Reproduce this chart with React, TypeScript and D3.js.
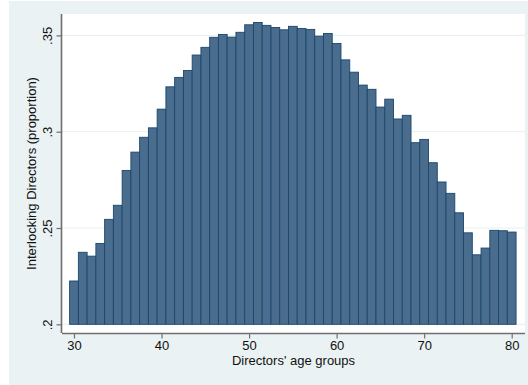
import React, { useEffect, useRef } from 'react';
import * as d3 from 'd3';

// Directors' age groups (x) and share of interlocking directors (y)
const ages = d3.range(30, 81);
const proportions = [
  0.2225, 0.2374, 0.2354, 0.2420, 0.2545, 0.2618, 0.2799, 0.2894, 0.2971, 0.3020,
  0.3117, 0.3233, 0.3282, 0.3318, 0.3398, 0.3438, 0.3490, 0.3505, 0.3491, 0.3516,
  0.3555, 0.3567, 0.3552, 0.3541, 0.3529, 0.3547, 0.3536, 0.3531, 0.3496, 0.3510,
  0.3458, 0.3373, 0.3309, 0.3242, 0.3220, 0.3128, 0.3169, 0.3066, 0.3085, 0.2943,
  0.2960, 0.2839, 0.2739, 0.2680, 0.2579, 0.2475, 0.2361, 0.2396, 0.2488, 0.2486,
  0.2479,
];
const xTicks = [30, 40, 50, 60, 70, 80];
const yTicks = [0.2, 0.25, 0.3, 0.35];
const yTickLabels = ['.2', '.25', '.3', '.35'];

const App = () => {
  const svgRef = useRef<SVGSVGElement>(null);

  useEffect(() => {
    const width = 528;
    const height = 385;
    const plot = { left: 62, right: 525, top: 14, bottom: 333 };
    const font = '"Liberation Sans", Arial, sans-serif';

    const svg = d3.select(svgRef.current)
      .attr('width', width)
      .attr('height', height);

    svg.selectAll('*').remove();

    // graph region and plot region
    svg.append('rect')
      .attr('x', 9).attr('y', 1)
      .attr('width', width - 9).attr('height', height - 1)
      .attr('fill', '#eaf2f3');
    svg.append('rect')
      .attr('x', plot.left).attr('y', plot.top)
      .attr('width', plot.right - plot.left).attr('height', plot.bottom - plot.top)
      .attr('fill', '#ffffff');

    const xScale = d3.scaleLinear()
      .domain([28.63, 81.52])
      .range([plot.left, plot.right]);

    const yScale = d3.scaleLinear()
      .domain([0.1955, 0.3611])
      .range([plot.bottom, plot.top]);

    // gridlines
    svg.append('g')
      .selectAll('line')
      .data(yTicks)
      .enter()
      .append('line')
      .attr('x1', plot.left)
      .attr('x2', plot.right)
      .attr('y1', d => yScale(d))
      .attr('y2', d => yScale(d))
      .attr('stroke', '#e6eff0')
      .attr('stroke-width', 1);

    // bars
    const bw = xScale(1) - xScale(0);
    svg.append('g')
      .selectAll('rect')
      .data(ages)
      .enter()
      .append('rect')
      .attr('x', d => xScale(d) - bw / 2)
      .attr('y', (d, i) => yScale(proportions[i]))
      .attr('width', bw)
      .attr('height', (d, i) => yScale(0.2) - yScale(proportions[i]))
      .attr('fill', '#4a6d8e')
      .attr('stroke', '#1a476f')
      .attr('stroke-width', 0.9);

    // x axis
    const xAxis = svg.append('g')
      .attr('transform', `translate(0, ${plot.bottom})`)
      .call(d3.axisBottom(xScale).tickValues(xTicks).tickSize(5.5).tickSizeOuter(0).tickPadding(2.5));
    xAxis.select('.domain').attr('stroke', '#6f6f6f').attr('stroke-width', 1.6)
      .attr('d', `M${plot.left},0.5H${plot.right}`);
    xAxis.selectAll('.tick line').attr('stroke', '#6f6f6f').attr('stroke-width', 1.2);
    xAxis.selectAll('.tick text')
      .attr('font-family', font).attr('font-size', 13).attr('fill', '#111');

    // y axis
    const yAxis = svg.append('g')
      .attr('transform', `translate(${plot.left}, 0)`)
      .call(d3.axisLeft(yScale).tickValues(yTicks).tickSize(5.5).tickSizeOuter(0)
        .tickFormat((d, i) => yTickLabels[i]));
    yAxis.select('.domain').attr('stroke', '#6f6f6f').attr('stroke-width', 1.6)
      .attr('d', `M-0.5,${plot.top}V${plot.bottom}`);
    yAxis.selectAll('.tick line').attr('stroke', '#6f6f6f').attr('stroke-width', 1.2);
    yAxis.selectAll('.tick text')
      .attr('font-family', font).attr('font-size', 13).attr('fill', '#111')
      .attr('x', null).attr('dy', null)
      .attr('text-anchor', 'middle')
      .attr('transform', 'translate(-10, 0) rotate(-90)');

    // axis titles
    svg.append('text')
      .attr('x', (plot.left + plot.right) / 2)
      .attr('y', 365)
      .attr('text-anchor', 'middle')
      .attr('font-family', font)
      .attr('font-size', 13)
      .attr('fill', '#111')
      .text("Directors' age groups");

    svg.append('text')
      .attr('transform', `translate(35.5, ${(plot.top + plot.bottom) / 2}) rotate(-90)`)
      .attr('text-anchor', 'middle')
      .attr('font-family', font)
      .attr('font-size', 13)
      .attr('fill', '#111')
      .text('Interlocking Directors (proportion)');
  }, []);

  return (
    <svg ref={svgRef} style={{ position: 'absolute', left: 0, top: 0, display: 'block' }}></svg>
  );
};

export default App;
